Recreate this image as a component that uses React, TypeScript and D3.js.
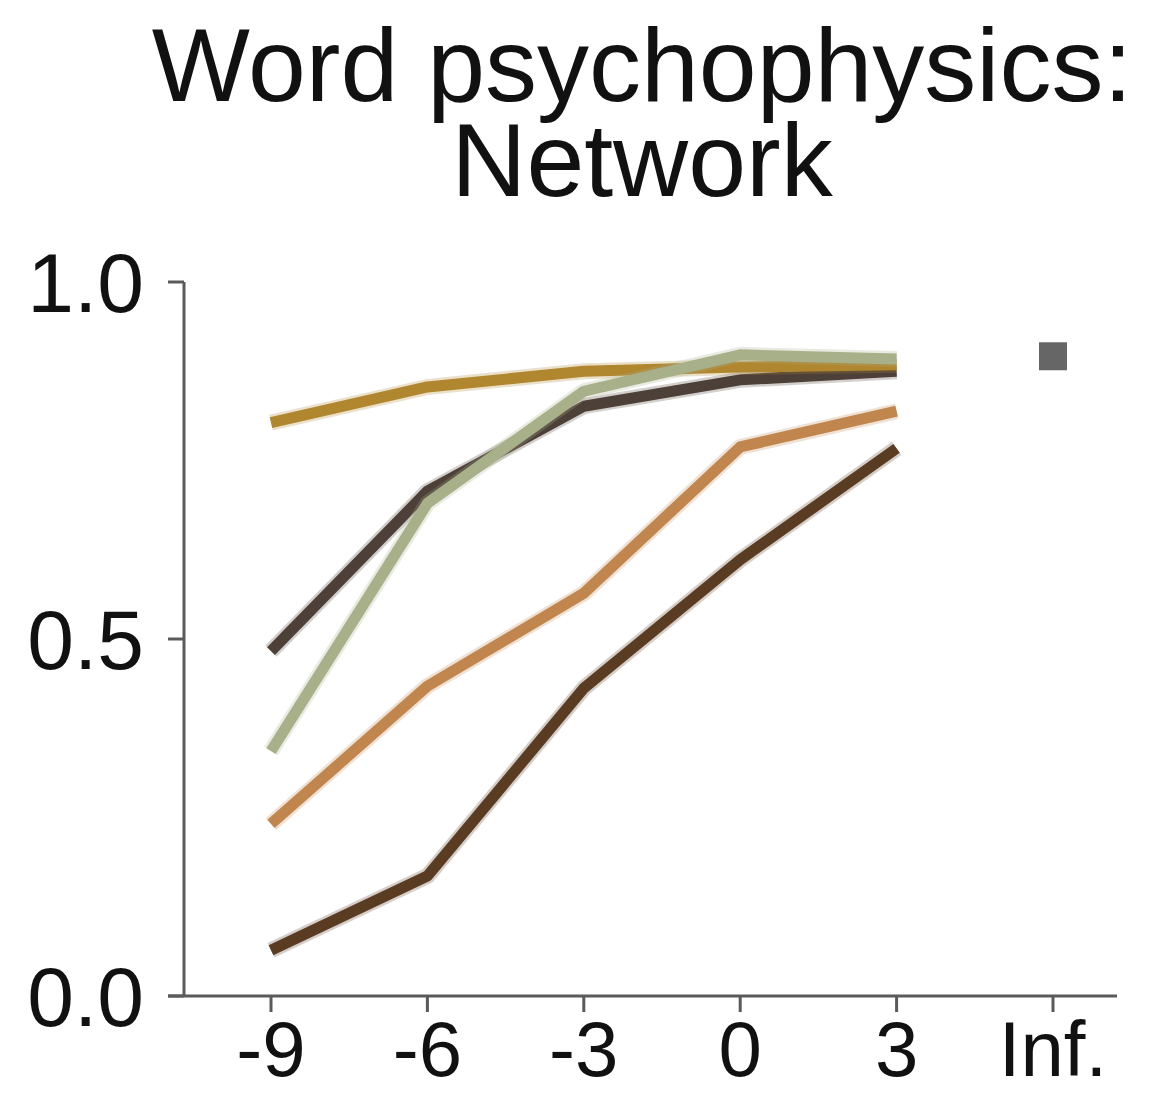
import * as d3 from "d3";

// SNR conditions on the x axis ("Inf." = clean speech)
const snrLabels = ["-9", "-6", "-3", "0", "3", "Inf."];
const yTicks = [0, 0.5, 1.0];

// proportion correct per network variant, SNR -9 .. 3
const goldValues = [0.803, 0.853, 0.875, 0.881, 0.884];
const darkGrayValues = [0.483, 0.707, 0.826, 0.863, 0.875];
const sageValues = [0.343, 0.69, 0.847, 0.898, 0.892];
const tanValues = [0.241, 0.434, 0.564, 0.769, 0.819];
const brownValues = [0.064, 0.168, 0.431, 0.611, 0.767];
const cleanValue = 0.896; // at Inf.

const seriesList = [
  { name: "brown", values: brownValues, color: "#5a3c22" },
  { name: "tan", values: tanValues, color: "#c0864e" },
  { name: "darkGray", values: darkGrayValues, color: "#4d4038" },
  { name: "gold", values: goldValues, color: "#b0862e" },
  { name: "sage", values: sageValues, color: "#a8b08a" },
];

const W = 1162;
const H = 1093;
const font = "'Liberation Sans', Arial, Helvetica, sans-serif";

export default function App() {
  const x = d3.scalePoint<string>().domain(snrLabels).range([271, 1053]);
  const y = d3.scaleLinear().domain([0, 1]).range([996, 282]);

  const line = d3
    .line<number>()
    .x((_, i) => x(snrLabels[i]) as number)
    .y((d) => y(d));

  const axisColor = "#5a5a5a";
  const yAxisX = 184;
  const tickLen = 16;

  return (
    <svg
      width={W}
      height={H}
      style={{ position: "absolute", left: 0, top: 0, background: "#fff" }}
    >
      {/* title, one text block with two lines */}
      <text fontFamily={font} fill="#111" textAnchor="middle" fontSize={104}>
        <tspan x={642} y={101}>
          Word psychophysics:
        </tspan>
        <tspan x={642} y={196}>
          Network
        </tspan>
      </text>

      {/* axes */}
      <line x1={yAxisX} x2={yAxisX} y1={y(1)} y2={y(0)} stroke={axisColor} strokeWidth={3} />
      <line x1={yAxisX - tickLen} x2={1117} y1={y(0)} y2={y(0)} stroke={axisColor} strokeWidth={3} />
      {yTicks.map((t) => (
        <g key={t}>
          <line x1={yAxisX - tickLen} x2={yAxisX} y1={y(t)} y2={y(t)} stroke={axisColor} strokeWidth={3} />
          <text
            x={yAxisX - 40}
            y={y(t)}
            dy="0.36em"
            textAnchor="end"
            fontFamily={font}
            fontSize={84}
            fill="#111"
          >
            {t.toFixed(1)}
          </text>
        </g>
      ))}
      {snrLabels.map((s) => (
        <g key={s}>
          <line x1={x(s)} x2={x(s)} y1={y(0)} y2={y(0) + tickLen} stroke={axisColor} strokeWidth={3} />
          <text
            x={x(s) as number}
            y={1076}
            textAnchor="middle"
            fontFamily={font}
            fontSize={78}
            fill="#111"
          >
            {s}
          </text>
        </g>
      ))}

      {/* series with a faint error band */}
      {seriesList.map((s) => (
        <g key={s.name} fill="none" strokeLinejoin="round">
          <path d={line(s.values) ?? ""} stroke={s.color} strokeWidth={16} strokeOpacity={0.25} />
          <path d={line(s.values) ?? ""} stroke={s.color} strokeWidth={11} />
        </g>
      ))}

      {/* clean-speech marker */}
      <rect
        x={(x("Inf.") as number) - 14}
        y={y(cleanValue) - 14}
        width={28}
        height={28}
        fill="#666"
      />
    </svg>
  );
}
